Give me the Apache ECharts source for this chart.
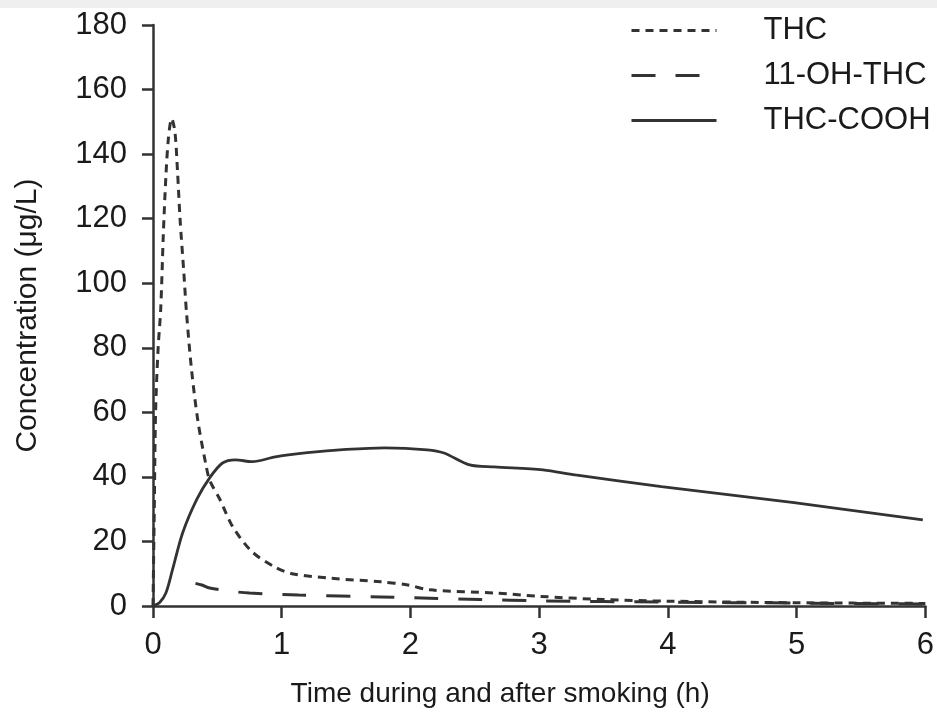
<!DOCTYPE html>
<html>
<head>
<meta charset="utf-8">
<script src="https://cdn.jsdelivr.net/npm/echarts@6/dist/echarts.min.js"></script>
<style>
html,body{margin:0;padding:0;background:#fff;}
#chart{width:937px;height:713px;}
</style>
</head>
<body>
<div id="chart"></div>
<script>
// Data (time in h, concentration in µg/L)
const seriesNames = ['THC', '11-OH-THC', 'THC-COOH'];
const thc = [[0,0],[0.01,30],[0.02,60],[0.04,80],[0.06,92],[0.08,115],[0.1,133],[0.12,145],[0.145,151],[0.17,147],[0.19,135],[0.21,120],[0.24,103],[0.26,91],[0.3,73],[0.35,57],[0.41,44],[0.44,39],[0.52,33],[0.62,24.5],[0.77,16.8],[0.95,12],[1.08,10],[1.38,8.6],[1.77,7.5],[1.98,6.5],[2.15,5],[2.67,4],[3.0,3],[3.5,2],[4.0,1.5],[5.0,1],[6.0,0.8]];
const ohThc = [[0.33,7],[0.38,6.5],[0.44,5.6],[0.6,4.6],[0.75,4],[1.13,3.4],[1.77,2.8],[2.15,2.4],[2.54,2],[3.0,1.6],[4.0,1.2],[5.0,0.9],[6.0,0.6]];
const thcCooh = [[0,0],[0.05,1],[0.1,4],[0.15,11],[0.23,22.6],[0.34,33],[0.44,39.7],[0.54,44.3],[0.64,45.3],[0.77,44.7],[0.95,46.2],[1.2,47.5],[1.5,48.5],[1.8,49],[2.13,48.4],[2.26,47.4],[2.46,43.7],[2.65,43.1],[3.03,42.2],[3.28,40.6],[3.95,37],[4.98,32],[5.98,26.7]];
const xTicks = [0,1,2,3,4,5,6];
const yTicks = [0,20,40,60,80,100,120,140,160,180];

const FONT = "'Liberation Sans', Arial, Helvetica, sans-serif";
const INK = '#333';
const TXT = '#1a1a1a';
const chart = echarts.init(document.getElementById('chart'), null, {renderer:'canvas'});
chart.setOption({
  backgroundColor: '#fff',
  animation: false,
  graphic: [{type:'rect', shape:{x:0,y:0,width:937,height:8}, style:{fill:'#efefef'}, silent:true}],
  grid: {left:153, right:6, top:25, bottom:107, containLabel:false},
  legend: {
    left: 625, top: 10, orient: 'vertical',
    itemWidth: 85, itemHeight: 30, itemGap: 14,
    data: seriesNames,
    itemStyle: {opacity: 0, borderWidth: 0},
    lineStyle: {width: 3},
    textStyle: {fontFamily: FONT, fontSize: 31, color: TXT, padding: [0,0,0,42]}
  },
  xAxis: {
    type: 'value', min: xTicks[0], max: xTicks[xTicks.length-1], interval: 1,
    name: 'Time during and after smoking (h)', nameLocation: 'middle', nameGap: 74,
    nameTextStyle: {fontFamily: FONT, fontSize: 28, color: TXT, padding: [0,78,0,0]},
    axisLine: {show:true, onZero:false, lineStyle:{color:INK, width:2.5}},
    axisTick: {show:true, inside:false, length:12, lineStyle:{color:INK, width:2.5}},
    axisLabel: {fontFamily: FONT, fontSize: 31, color:TXT, margin: 24},
    splitLine: {show:false}
  },
  yAxis: {
    type: 'value', min: yTicks[0], max: yTicks[yTicks.length-1], interval: 20,
    name: 'Concentration (μg/L)', nameLocation: 'middle', nameGap: 110,
    nameTextStyle: {fontFamily: FONT, fontSize: 30, color: TXT},
    axisLine: {show:true, lineStyle:{color:INK, width:2.5}},
    axisTick: {show:true, inside:false, length:11, lineStyle:{color:INK, width:2.5}},
    axisLabel: {fontFamily: FONT, fontSize: 31, color:TXT, margin: 26},
    splitLine: {show:false}
  },
  series: [
    {name: seriesNames[0], type:'line', data: thc, symbol:'none', smooth:0.3,
     lineStyle:{color:INK, width:3, type:[8,6]}, itemStyle:{color:INK}},
    {name: seriesNames[1], type:'line', data: ohThc, symbol:'none', smooth:0.3,
     lineStyle:{color:INK, width:3, type:[24,20]}, itemStyle:{color:INK}},
    {name: seriesNames[2], type:'line', data: thcCooh, symbol:'none', smooth:0.3,
     lineStyle:{color:INK, width:2.8, type:'solid'}, itemStyle:{color:INK}}
  ]
});
</script>
</body>
</html>
